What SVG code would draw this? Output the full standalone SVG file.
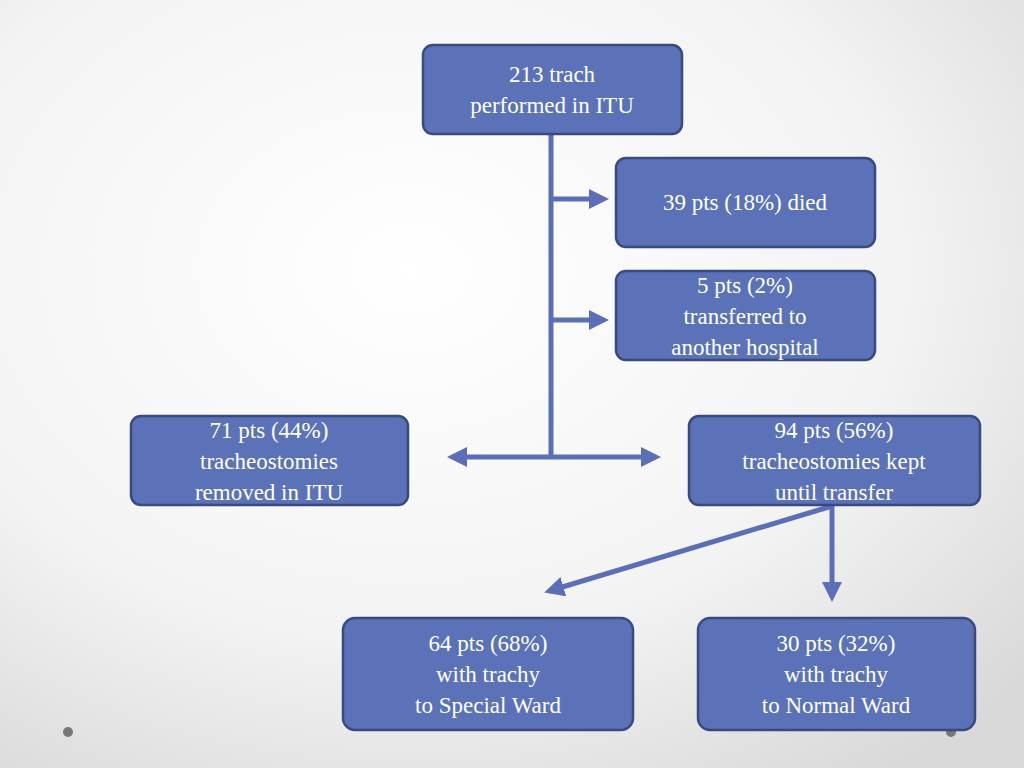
<svg xmlns="http://www.w3.org/2000/svg" width="1024" height="768" viewBox="0 0 1024 768">
<defs>
<radialGradient id="bg" cx="0.4" cy="0.35" r="0.8"><stop offset="0" stop-color="#ffffff"/><stop offset="0.6" stop-color="#f3f3f3"/><stop offset="1" stop-color="#d9d9d9"/></radialGradient>
<marker id="ah" markerWidth="4" markerHeight="4" refX="3" refY="2" orient="auto-start-reverse" markerUnits="strokeWidth"><path d="M0,0 L4,2 L0,4 Z" fill="#5a6fb5"/></marker>
<style>
.b{fill:#5b72b8;stroke:#3a4a80;stroke-width:2.5}
.t{fill:#fff;font-family:"Liberation Serif","DejaVu Serif",serif;font-size:23px;text-anchor:middle}
.c{stroke:#5a6fb5;stroke-width:5;fill:none}
</style>
</defs>
<rect width="1024" height="768" fill="url(#bg)"/>
<circle cx="68" cy="732" r="5" fill="#777"/><circle cx="951" cy="732" r="5" fill="#777"/>
<g id="connectors">
<path class="c" d="M551,134 V457"/>
<path class="c" d="M551,199 H604" marker-end="url(#ah)"/>
<path class="c" d="M551,320 H604" marker-end="url(#ah)"/>
<path class="c" d="M452,457 H656" marker-start="url(#ah)" marker-end="url(#ah)"/>
<path class="c" d="M832,506 L549,591" marker-end="url(#ah)"/>
<path class="c" d="M832,506 V597" marker-end="url(#ah)"/>
</g>
<g id="n1"><rect class="b" x="423" y="45" width="259" height="89" rx="10"/><text class="t" x="552" y="82">213 trach</text><text class="t" x="552" y="113">performed in ITU</text></g>
<g id="n2"><rect class="b" x="616" y="158" width="259" height="89" rx="10"/><text class="t" x="745" y="210">39 pts (18%) died</text></g>
<g id="n3"><rect class="b" x="616" y="271" width="259" height="89" rx="10"/><text class="t" x="745" y="293">5 pts (2%)</text><text class="t" x="745" y="324">transferred to</text><text class="t" x="745" y="355">another hospital</text></g>
<g id="n4"><rect class="b" x="131" y="416" width="277" height="89" rx="10"/><text class="t" x="269" y="438">71 pts (44%)</text><text class="t" x="269" y="469">tracheostomies</text><text class="t" x="269" y="500">removed in ITU</text></g>
<g id="n5"><rect class="b" x="689" y="416" width="291" height="89" rx="10"/><text class="t" x="834" y="438">94 pts (56%)</text><text class="t" x="834" y="469">tracheostomies kept</text><text class="t" x="834" y="500">until transfer</text></g>
<g id="n6"><rect class="b" x="343" y="618" width="290" height="112" rx="12"/><text class="t" x="488" y="651">64 pts (68%)</text><text class="t" x="488" y="682">with trachy</text><text class="t" x="488" y="713">to Special Ward</text></g>
<g id="n7"><rect class="b" x="698" y="618" width="277" height="112" rx="12"/><text class="t" x="836" y="651">30 pts (32%)</text><text class="t" x="836" y="682">with trachy</text><text class="t" x="836" y="713">to Normal Ward</text></g>
</svg>
